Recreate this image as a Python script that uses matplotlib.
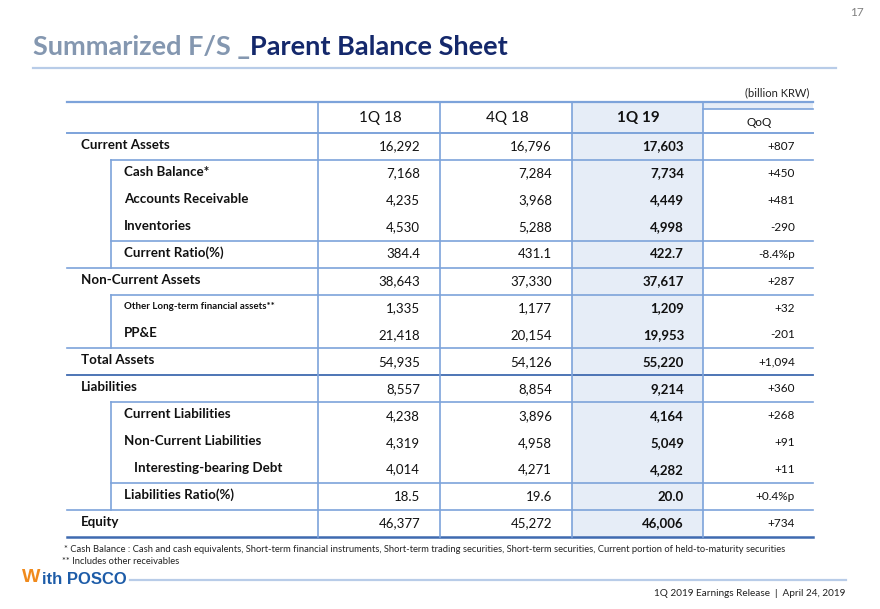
import matplotlib
matplotlib.use("Agg")
import matplotlib.pyplot as plt
from matplotlib.patches import Rectangle

# ---------------- data ----------------
labels = ["Current Assets", "Cash Balance*", "Accounts Receivable", "Inventories",
          "Current Ratio(%)", "Non-Current Assets", "Other Long-term financial assets**",
          "PP&E", "Total Assets", "Liabilities", "Current Liabilities",
          "Non-Current Liabilities", "Interesting-bearing Debt", "Liabilities Ratio(%)",
          "Equity"]
levels = [0, 1, 1, 1, 1, 0, 3, 1, 0, 0, 1, 1, 2, 1, 0]
q1_18 = ["16,292", "7,168", "4,235", "4,530", "384.4", "38,643", "1,335", "21,418",
         "54,935", "8,557", "4,238", "4,319", "4,014", "18.5", "46,377"]
q4_18 = ["16,796", "7,284", "3,968", "5,288", "431.1", "37,330", "1,177", "20,154",
         "54,126", "8,854", "3,896", "4,958", "4,271", "19.6", "45,272"]
q1_19 = ["17,603", "7,734", "4,449", "4,998", "422.7", "37,617", "1,209", "19,953",
         "55,220", "9,214", "4,164", "5,049", "4,282", "20.0", "46,006"]
qoq = ["+807", "+450", "+481", "-290", "-8.4%p", "+287", "+32", "-201",
       "+1,094", "+360", "+268", "+91", "+11", "+0.4%p", "+734"]
col_headers = ["1Q 18", "4Q 18", "1Q 19", "QoQ"]

title_a = "Summarized F/S _"
title_b = "Parent Balance Sheet"
unit = "(billion KRW)"
foot1 = "* Cash Balance : Cash and cash equivalents, Short-term financial instruments, Short-term trading securities, Short-term securities, Current portion of held-to-maturity securities"
foot2 = "** Includes other receivables"
footer_right = "1Q 2019 Earnings Release  |  April 24, 2019"
page_no = "17"

# ---------------- layout ----------------
W, H = 880, 609
fig = plt.figure(figsize=(W / 100, H / 100), dpi=100)
ax = fig.add_axes([0, 0, 1, 1])
ax.set_xlim(0, W)
ax.set_ylim(H, 0)
ax.axis("off")

FONT = "Lato"
LINE = "#7DA3DA"
DARK = "#3F6AB0"
SHADE = "#E6EDF7"

x_left, x_ind, x_right = 67, 111, 813
col_x = [318, 440, 572, 703, x_right]
num_right = [420, 552, 684, 795]
hdr_cx = [380, 507, 638, 759]
y_top, y_hdr = 102, 133
row_h = 26.93
n = len(labels)
y_bot = y_hdr + row_h * n

def ry(i):
    return y_hdr + row_h * i

# shading
ax.add_patch(Rectangle((col_x[2], y_top), col_x[3] - col_x[2], y_bot - y_top,
                       facecolor=SHADE, edgecolor="none", zorder=0))
ax.add_patch(Rectangle((col_x[3], y_top), x_right - col_x[3], 7,
                       facecolor=SHADE, edgecolor="none", zorder=0))

# title
t1 = ax.text(33, 47, title_a, fontsize=19.5, fontweight="bold", color="#8497B0",
             family=FONT, va="center", ha="left")
fig.canvas.draw()
bb = t1.get_window_extent()
x_end = bb.x1
ax.text(x_end, 47, title_b, fontsize=19.5, fontweight="bold", color="#14286B",
        family=FONT, va="center", ha="left")
ax.plot([33, 836], [67.5, 67.5], color="#B8CCE8", lw=1.6)
ax.text(857, 13, page_no, fontsize=8.5, color="#808080", family=FONT, ha="center", va="center")
ax.text(809, 93, unit, fontsize=8, color="#222222", family=FONT, ha="right", va="center")

# horizontal lines
ax.plot([x_left, x_right], [y_top, y_top], color=LINE, lw=1.6)
ax.plot([col_x[3], x_right], [109, 109], color=LINE, lw=1.2)
ax.plot([x_left, x_right], [y_hdr, y_hdr], color=LINE, lw=1.4)
indent_after = [0, 3, 5, 9, 12]
full_after = [4, 7, 13]
for i in indent_after:
    y = ry(i + 1)
    ax.plot([x_ind, x_right], [y, y], color=LINE, lw=1.2)
for i in full_after:
    y = ry(i + 1)
    ax.plot([x_left, x_right], [y, y], color=LINE, lw=1.2)
ax.plot([x_left, x_right], [ry(9), ry(9)], color=DARK, lw=1.3)
ax.plot([x_left, x_right], [y_bot, y_bot], color=DARK, lw=1.8)

# vertical lines
for cx in col_x[:4]:
    ax.plot([cx, cx], [y_top, y_bot], color=LINE, lw=1.2)
for a, b in [(0, 4), (5, 7), (9, 13)]:
    ax.plot([x_ind, x_ind], [ry(a + 1), ry(b + 1)], color=LINE, lw=1.2)

# headers
for k, h in enumerate(col_headers):
    if k == 3:
        ax.text(hdr_cx[k], 122, h, fontsize=8.5, color="#111111", family=FONT,
                ha="center", va="center")
    else:
        ax.text(hdr_cx[k], 118, h, fontsize=11, color="#111111", family=FONT,
                ha="center", va="center", fontweight="bold" if k == 2 else "normal")

# rows
label_x = {0: 81, 1: 124, 2: 134, 3: 124}
for i in range(n):
    yc = ry(i) + row_h / 2
    lv = levels[i]
    ax.text(label_x[lv], yc - 1.5, labels[i], fontsize=7 if lv == 3 else 9.6,
            fontweight="bold", color="#111111", family=FONT, ha="left", va="center")
    for k, col in enumerate([q1_18, q4_18, q1_19, qoq]):
        ax.text(num_right[k], yc, col[i], fontsize=8.5 if k == 3 else 9.5,
                fontweight="bold" if k == 2 else "normal", color="#111111",
                family=FONT, ha="right", va="center")

# footnotes
ax.text(64, 549, foot1, fontsize=6.75, color="#222222", family=FONT, ha="left", va="center")
ax.text(62, 562, foot2, fontsize=6.75, color="#222222", family=FONT, ha="left", va="center")

# logo
ax.text(22, 578, "W", fontsize=14, fontweight="bold", color="#F08A1C",
        family="Liberation Sans", ha="left", va="center")
ax.text(42, 579, "ith POSCO", fontsize=12, fontweight="bold", color="#1D5CA8",
        family="Liberation Sans", ha="left", va="center")
ax.plot([130, 846], [580, 580], color="#B8CCE8", lw=1.6)
ax.text(845, 593, footer_right, fontsize=7.2, color="#222222", family=FONT,
        ha="right", va="center")

fig.savefig("out.png", dpi=100)
